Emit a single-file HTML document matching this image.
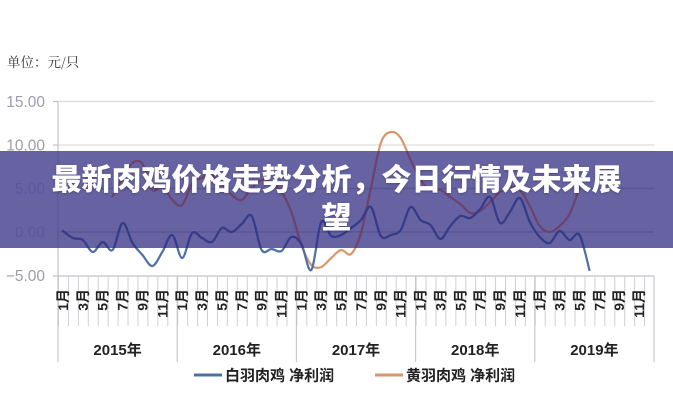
<!DOCTYPE html>
<html><head><meta charset="utf-8">
<style>
html,body{margin:0;padding:0;background:#fff;}
#wrap{position:relative;width:673px;height:400px;overflow:hidden;background:#fff;}
svg{position:absolute;left:0;top:0;}
.banner{position:absolute;left:0;top:151px;width:673px;height:97px;background:rgba(82,77,150,0.88);}
.t{position:absolute;left:0;width:673px;text-align:center;color:#fff;font-family:"Liberation Sans","Noto Sans CJK SC",sans-serif;font-weight:900;font-size:30px;line-height:38.5px;white-space:nowrap;text-shadow:0 1px 2px rgba(0,0,0,0.25);}
</style></head><body>
<div id="wrap">
<svg width="673" height="400" viewBox="0 0 673 400" xmlns="http://www.w3.org/2000/svg">
<defs>
<pattern id="mt" x="58" y="0" width="9.9333" height="400" patternUnits="userSpaceOnUse">
<rect x="0" y="0" width="1" height="400" fill="#cfcfd4"/>
</pattern>
</defs>
<text x="7" y="67" font-family="'Noto Serif CJK SC','Noto Sans CJK SC',serif" font-size="13.5" fill="#333">单位：元/只</text>
<g stroke="#dcdce3" stroke-width="1.2">
<line x1="58" y1="101.5" x2="654" y2="101.5"/>
<line x1="58" y1="145" x2="654" y2="145"/>
<line x1="58" y1="188.5" x2="654" y2="188.5"/>
<line x1="58" y1="232" x2="654" y2="232"/>
</g>
<g stroke="#c2c2ca" stroke-width="1.2">
<line x1="58" y1="101.5" x2="58" y2="276"/>
<line x1="53" y1="276" x2="654" y2="276"/>
<line x1="53" y1="101.5" x2="58" y2="101.5"/>
<line x1="53" y1="145" x2="58" y2="145"/>
<line x1="53" y1="188.5" x2="58" y2="188.5"/>
<line x1="53" y1="232" x2="58" y2="232"/>
</g>
<rect x="57.5" y="276" width="597" height="50" fill="url(#mt)"/>
<g stroke="#c4c4ca" stroke-width="1.1">
<line x1="58" y1="276" x2="58" y2="362"/>
<line x1="177.2" y1="276" x2="177.2" y2="362"/>
<line x1="296.4" y1="276" x2="296.4" y2="362"/>
<line x1="415.6" y1="276" x2="415.6" y2="362"/>
<line x1="534.8" y1="276" x2="534.8" y2="362"/>
<line x1="654" y1="276" x2="654" y2="362"/>
</g>
<g font-family="'Liberation Sans',sans-serif" font-size="15.5" fill="#9c9cab" text-anchor="end">
<text x="45" y="107">15.00</text>
<text x="45" y="150.5">10.00</text>
<text x="45" y="194">5.00</text>
<text x="45" y="237.5">0.00</text>
<text x="45" y="281">−5.00</text>
</g>
<g font-family="'Liberation Sans','Noto Sans CJK SC',sans-serif" font-size="14" font-weight="bold" fill="#222" text-anchor="end" dominant-baseline="central">
<text transform="translate(62.97,289) rotate(-90)">1月</text>
<text transform="translate(82.83,289) rotate(-90)">3月</text>
<text transform="translate(102.7,289) rotate(-90)">5月</text>
<text transform="translate(122.57,289) rotate(-90)">7月</text>
<text transform="translate(142.43,289) rotate(-90)">9月</text>
<text transform="translate(162.3,289) rotate(-90)">11月</text>
<text transform="translate(182.17,289) rotate(-90)">1月</text>
<text transform="translate(202.03,289) rotate(-90)">3月</text>
<text transform="translate(221.9,289) rotate(-90)">5月</text>
<text transform="translate(241.77,289) rotate(-90)">7月</text>
<text transform="translate(261.63,289) rotate(-90)">9月</text>
<text transform="translate(281.5,289) rotate(-90)">11月</text>
<text transform="translate(301.37,289) rotate(-90)">1月</text>
<text transform="translate(321.23,289) rotate(-90)">3月</text>
<text transform="translate(341.1,289) rotate(-90)">5月</text>
<text transform="translate(360.97,289) rotate(-90)">7月</text>
<text transform="translate(380.83,289) rotate(-90)">9月</text>
<text transform="translate(400.7,289) rotate(-90)">11月</text>
<text transform="translate(420.57,289) rotate(-90)">1月</text>
<text transform="translate(440.43,289) rotate(-90)">3月</text>
<text transform="translate(460.3,289) rotate(-90)">5月</text>
<text transform="translate(480.17,289) rotate(-90)">7月</text>
<text transform="translate(500.03,289) rotate(-90)">9月</text>
<text transform="translate(519.9,289) rotate(-90)">11月</text>
<text transform="translate(539.77,289) rotate(-90)">1月</text>
<text transform="translate(559.63,289) rotate(-90)">3月</text>
<text transform="translate(579.5,289) rotate(-90)">5月</text>
<text transform="translate(599.37,289) rotate(-90)">7月</text>
<text transform="translate(619.23,289) rotate(-90)">9月</text>
<text transform="translate(639.1,289) rotate(-90)">11月</text>
</g>
<g font-family="'Liberation Sans','Noto Sans CJK SC',sans-serif" font-size="15" font-weight="bold" fill="#222" text-anchor="middle">
<text x="117.6" y="355">2015年</text>
<text x="236.8" y="355">2016年</text>
<text x="356" y="355">2017年</text>
<text x="475.2" y="355">2018年</text>
<text x="594.4" y="355">2019年</text>
</g>
<path id="sOrange" fill="none" stroke="#d8966a" stroke-width="2.2" stroke-linejoin="round" stroke-linecap="round" d="M112.63 196 L122.57 178 L132.5 163 L142.43 164 L152.37 190 L162.3 186 L172.23 200 L182.17 205 L192.1 184 L202.03 178 L211.97 176 L221.9 184 L231.83 195 L241.77 200 L251.7 188 L261.63 180 L271.57 183 L281.5 192 L291.43 212 L301.37 245 L311.3 265 L321.23 267 L331.17 258 L341.1 250 L351.03 254 L360.97 233 L370.9 188 L380.83 143 L390.77 132 L400.7 138 L410.63 160 L420.57 180 L430.5 190 L440.43 190 L450.37 197 L460.3 204 L470.23 213 L480.17 211 L490.1 202 L500.03 192 L509.97 187 L519.9 190 L529.83 206 L539.77 226 L549.7 232 L559.63 226 L569.57 214 L579.5 188"/>
<path id="sBlue" fill="none" stroke="#4e70a6" stroke-width="2.2" stroke-linejoin="round" stroke-linecap="round" d="M62.97 231 L72.9 238 L82.83 240 L92.77 252 L102.7 242 L112.63 250 L122.57 223 L132.5 243 L142.43 255 L152.37 266 L162.3 252 L172.23 235 L182.17 258 L192.1 233 L202.03 238 L211.97 242 L221.9 228 L231.83 232 L241.77 224 L251.7 216 L261.63 250 L271.57 249 L281.5 251 L291.43 237 L301.37 244 L311.3 270 L321.23 222 L331.17 236 L341.1 235 L351.03 228 L360.97 220 L370.9 207 L380.83 236 L390.77 235 L400.7 230 L410.63 207 L420.57 220 L430.5 225 L440.43 239 L450.37 226 L460.3 216 L470.23 218 L480.17 209 L490.1 197 L500.03 223 L509.97 212 L519.9 198 L529.83 222 L539.77 237 L549.7 243 L559.63 231 L569.57 240 L579.5 235 L589.43 270"/>
<line x1="194" y1="375" x2="222" y2="375" stroke="#4e70a6" stroke-width="3"/>
<line x1="375" y1="375" x2="403" y2="375" stroke="#d8966a" stroke-width="3"/>
<g font-family="'Liberation Sans','Noto Sans CJK SC',sans-serif" font-size="15" font-weight="bold" fill="#222">
<text x="225" y="380.5">白羽肉鸡 净利润</text>
<text x="406" y="380.5">黄羽肉鸡 净利润</text>
</g>
</svg>
<div class="banner"></div>
<svg width="673" height="400" viewBox="0 0 673 400" xmlns="http://www.w3.org/2000/svg">
<defs><clipPath id="bc"><rect x="0" y="151" width="673" height="97"/></clipPath></defs>
<g clip-path="url(#bc)">
<g stroke="#58548f" stroke-width="1.2">
<line x1="58" y1="188.5" x2="654" y2="188.5"/>
<line x1="58" y1="232" x2="654" y2="232"/>
</g>
<line x1="58" y1="151" x2="58" y2="248" stroke="#5c5894" stroke-width="1.2"/>
<path id="oOrange" fill="none" stroke="#6e4068" stroke-width="2.2" stroke-linejoin="round" stroke-linecap="round" opacity="0.9"/>
<path id="oBlue" fill="none" stroke="#343a86" stroke-width="2.2" stroke-linejoin="round" stroke-linecap="round" opacity="0.95"/>
</g>
</svg>
<div class="t" style="top:161.5px;">最新肉鸡价格走势分析，今日行情及未来展</div>
<div class="t" style="top:200px;">望</div>
</div>
<script>
(function(){
  [['sBlue','oBlue'],['sOrange','oOrange']].forEach(function(pair){
    var el=document.getElementById(pair[0]);
    var ov=document.getElementById(pair[1]);
    var nums=el.getAttribute('d').match(/-?[\d.]+/g).map(Number);
    var p=[];
    for(var i=0;i<nums.length;i+=2)p.push([nums[i],nums[i+1]]);
    var d='M'+p[0][0]+' '+p[0][1];
    for(var i=0;i<p.length-1;i++){
      var p0=p[i-1]||p[i],p1=p[i],p2=p[i+1],p3=p[i+2]||p2;
      var c1x=p1[0]+(p2[0]-p0[0])/6,c1y=p1[1]+(p2[1]-p0[1])/6;
      var c2x=p2[0]-(p3[0]-p1[0])/6,c2y=p2[1]-(p3[1]-p1[1])/6;
      d+=' C'+c1x.toFixed(2)+' '+c1y.toFixed(2)+' '+c2x.toFixed(2)+' '+c2y.toFixed(2)+' '+p2[0]+' '+p2[1];
    }
    el.setAttribute('d',d);
    ov.setAttribute('d',d);
  });
})();
</script>
</body></html>
